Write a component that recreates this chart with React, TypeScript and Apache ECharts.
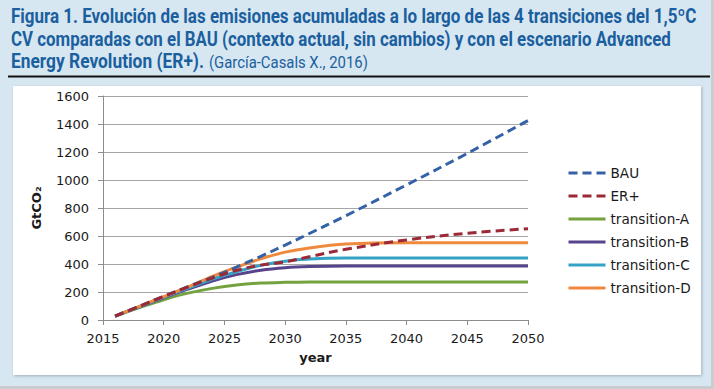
import React, { useEffect, useRef } from "react";
import * as echarts from "echarts";

const years = [2016, 2018, 2020, 2022, 2024, 2026, 2028, 2030, 2032, 2035, 2040, 2045, 2050];
const bau = [28, 98, 170, 238, 305, 378, 455, 535, 618, 745, 965, 1190, 1425];
const erPlus = [28, 98, 168, 236, 300, 355, 392, 415, 452, 505, 572, 620, 652];
const transA = [28, 88, 145, 192, 226, 250, 264, 269, 271, 272, 272, 272, 272];
const transB = [28, 94, 158, 220, 278, 324, 356, 374, 382, 386, 386, 386, 386];
const transC = [28, 96, 162, 228, 292, 345, 390, 420, 435, 442, 443, 443, 443];
const transD = [28, 98, 167, 237, 312, 378, 437, 485, 515, 542, 552, 552, 552];

const seriesNames = ["BAU", "ER+", "transition-A", "transition-B", "transition-C", "transition-D"];
const seriesValues = [bau, erPlus, transA, transB, transC, transD];
const seriesColors = ["#3562a6", "#9c2a36", "#74a23e", "#58448c", "#34a2c6", "#ef8a3c"];
const seriesDashed = [true, true, false, false, false, false];

const yTicks = { min: 0, max: 1600, interval: 200 };
const xTicks = { min: 2015, max: 2050, interval: 5 };

const titleLine1 = "Figura 1. Evolución de las emisiones acumuladas a lo largo de las 4 transiciones del 1,5ºC";
const titleLine2 = "CV comparadas con el BAU (contexto actual, sin cambios) y con el escenario Advanced";
const titleLine3a = "Energy Revolution (ER+).";
const titleLine3b = "(García-Casals X., 2016)";

const TITLE_FONT = "Roboto, 'Noto Sans', sans-serif";
const TITLE_COLOR = "#1b5f9f";
const AXIS_FONT = "'DejaVu Sans', Verdana, sans-serif";

function fitScale(text: string, font: string, target: number): number {
  const c = document.createElement("canvas");
  const ctx = c.getContext("2d");
  if (!ctx) return 1;
  ctx.font = font;
  const w = ctx.measureText(text).width;
  return w > 0 ? target / w : 1;
}

export default function App() {
  const ref = useRef<HTMLDivElement>(null);

  useEffect(() => {
    document.body.style.margin = "0";
    const chart = echarts.init(ref.current!, null, { renderer: "svg" });

    const boldFont = `bold 20px ${TITLE_FONT}`;
    const normFont = `normal 16px ${TITLE_FONT}`;
    const titleTexts = [
      { text: titleLine1, font: boldFont, x: 11, y: 7, w: 686 },
      { text: titleLine2, font: boldFont, x: 11, y: 30, w: 660 },
      { text: titleLine3a, font: boldFont, x: 11, y: 52, w: 193 },
      { text: titleLine3b, font: normFont, x: 209, y: 55, w: 159 },
    ];

    const series = seriesNames.map((name, i) => ({
      name,
      type: "line",
      data: years.map((y, j) => [y, seriesValues[i][j]]),
      smooth: 0.35,
      showSymbol: false,
      symbol: "none",
      lineStyle: {
        color: seriesColors[i],
        width: 3,
        type: seriesDashed[i] ? [9, 5] : "solid",
      },
      itemStyle: { color: seriesColors[i] },
      z: seriesDashed[i] ? 3 : 2,
    }));

    chart.setOption({
      animation: false,
      backgroundColor: "#d7e7f1",
      graphic: [
        {
          type: "rect",
          shape: { x: 0, y: 386, width: 714, height: 3 },
          style: { fill: "#c9cdd0" },
          silent: true,
        },
        {
          type: "rect",
          shape: { x: 711, y: 0, width: 3, height: 389 },
          style: { fill: "#c9cdd0" },
          silent: true,
        },
        {
          type: "rect",
          shape: { x: 13, y: 86, width: 688, height: 289 },
          style: { fill: "#ffffff", shadowBlur: 3, shadowColor: "rgba(0,0,0,0.25)", shadowOffsetX: 1, shadowOffsetY: 1 },
          silent: true,
          z: -10,
        },
        {
          type: "line",
          shape: { x1: 8, y1: 76.5, x2: 710, y2: 76.5 },
          style: { stroke: "#111111", lineWidth: 2 },
          silent: true,
        },
        ...titleTexts.map((t) => ({
          type: "text",
          x: t.x,
          y: t.y,
          scaleX: fitScale(t.text, t.font, t.w),
          style: {
            x: 0,
            y: 0,
            text: t.text,
            font: t.font,
            fill: TITLE_COLOR,
            align: "left",
            verticalAlign: "top",
          },
          silent: true,
        })),
      ],
      grid: { left: 103, right: 186, top: 96, bottom: 69, containLabel: false },
      legend: {
        orient: "vertical",
        left: 567,
        top: 166,
        padding: 0,
        itemWidth: 37,
        itemHeight: 14,
        itemGap: 9,
        data: seriesNames,
        itemStyle: { opacity: 0 },
        lineStyle: { width: 3 },
        textStyle: { fontFamily: AXIS_FONT, fontSize: 13.6, color: "#1a1a1a" },
      },
      xAxis: {
        type: "value",
        min: xTicks.min,
        max: xTicks.max,
        interval: xTicks.interval,
        name: "year",
        nameLocation: "middle",
        nameGap: 31,
        nameTextStyle: { fontFamily: AXIS_FONT, fontSize: 13, fontWeight: "bold", color: "#1a1a1a" },
        axisLine: { show: true, lineStyle: { color: "#8c8c8c", width: 1 } },
        axisTick: { show: true, inside: false, length: 5, lineStyle: { color: "#8c8c8c" } },
        axisLabel: { fontFamily: AXIS_FONT, fontSize: 13, color: "#1a1a1a", margin: 12, formatter: (v: number) => String(v) },
        splitLine: { show: false },
      },
      yAxis: {
        type: "value",
        min: yTicks.min,
        max: yTicks.max,
        interval: yTicks.interval,
        name: "GtCO₂",
        nameLocation: "middle",
        nameRotate: 90,
        nameGap: 60,
        nameTextStyle: { fontFamily: AXIS_FONT, fontSize: 13, fontWeight: "bold", color: "#1a1a1a" },
        axisLine: { show: true, lineStyle: { color: "#8c8c8c", width: 1 } },
        axisTick: { show: true, inside: false, length: 5, lineStyle: { color: "#8c8c8c" } },
        axisLabel: { fontFamily: AXIS_FONT, fontSize: 13, color: "#1a1a1a", margin: 14, formatter: (v: number) => String(v) },
        splitLine: { show: true, lineStyle: { color: "#a6a6a6", width: 1 } },
      },
      series,
    });

    return () => chart.dispose();
  }, []);

  return <div ref={ref} style={{ width: 714, height: 389 }} />;
}
